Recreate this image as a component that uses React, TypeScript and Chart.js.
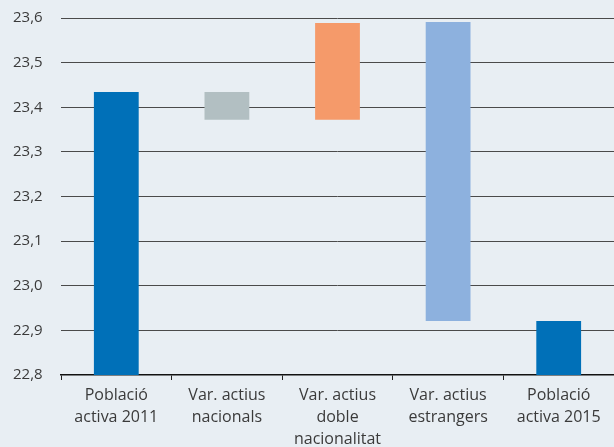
import React, { useEffect, useRef } from "react";
import { Chart, registerables } from "chart.js";

Chart.register(...registerables);

const categories: string[][] = [
  ["Població", "activa 2011"],
  ["Var. actius", "nacionals"],
  ["Var. actius", "doble", "nacionalitat"],
  ["Var. actius", "estrangers"],
  ["Població", "activa 2015"],
];
const barStarts = [22.8, 23.372, 23.372, 22.921, 22.8];
const barEnds = [23.434, 23.434, 23.589, 23.591, 22.921];
const barColors = ["#0070B8", "#B2BFC2", "#F59A6A", "#8DB1DE", "#0070B8"];
const yMin = 22.8;
const yMax = 23.6;
const yStep = 0.1;

export default function App() {
  const ref = useRef<HTMLCanvasElement | null>(null);
  useEffect(() => {
    if (!ref.current) return;
    const data = barStarts.map((s, i) => [s, barEnds[i]]);
    const chart = new Chart(ref.current, {
      type: "bar",
      data: {
        labels: categories,
        datasets: [
          {
            data: data as any,
            backgroundColor: barColors,
            borderWidth: 0,
            categoryPercentage: 1,
            barPercentage: 0.405,
          },
        ],
      },
      options: {
        animation: false,
        responsive: false,
        maintainAspectRatio: false,
        layout: { padding: { top: 18, right: 0, left: 13, bottom: 0 } },
        plugins: { legend: { display: false }, tooltip: { enabled: false } },
        scales: {
          x: {
            grid: {
              offset: true,
              drawOnChartArea: false,
              drawTicks: true,
              tickLength: 5,
              color: "#222",
              lineWidth: 1,
            },
            border: { display: true, color: "#111", width: 1.5 },
            ticks: {
              color: "#3a3a3a",
              font: { family: "'Open Sans'", size: 16, lineHeight: 1.35 },
              padding: 5,
              maxRotation: 0,
              autoSkip: false,
            },
            afterFit: (s: any) => {
              s.height = 72;
            },
          },
          y: {
            min: yMin,
            max: yMax,
            grid: {
              drawTicks: false,
              color: (ctx: any) => (ctx.tick && ctx.tick.value === yMin ? "rgba(0,0,0,0)" : "#4a4a4a"),
              lineWidth: 1,
            },
            border: { display: false },
            ticks: {
              stepSize: yStep,
              color: "#3a3a3a",
              padding: 0,
              crossAlign: "far",
              font: { family: "'Open Sans'", size: 15 },
              callback: (v: any) => Number(v).toFixed(1).replace(".", ","),
            },
            afterFit: (s: any) => {
              s.width = 48;
            },
          },
        },
      },
    });
    return () => chart.destroy();
  }, []);
  return (
    <div
      style={{
        position: "fixed",
        left: 0,
        top: 0,
        width: 614,
        height: 447,
        background: "#E8EEF3",
      }}
    >
      <canvas ref={ref} width={614} height={447} style={{ width: 614, height: 447, display: "block" }} />
    </div>
  );
}
